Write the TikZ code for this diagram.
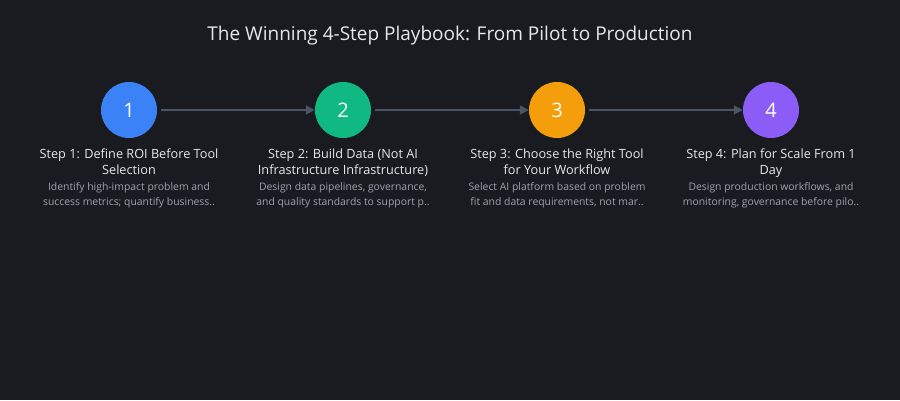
\documentclass[tikz,border=0pt]{standalone}
\usepackage{fontspec}
\setmainfont{Open Sans}
\usetikzlibrary{arrows.meta}
\definecolor{bg}{HTML}{1A1B20}
\definecolor{titlec}{HTML}{E5E7EB}
\definecolor{descc}{HTML}{9CA3AF}
\definecolor{linec}{HTML}{4B5563}
\definecolor{cblue}{HTML}{3B82F6}
\definecolor{cgreen}{HTML}{10B981}
\definecolor{camber}{HTML}{F59E0B}
\definecolor{cpurple}{HTML}{8B5CF6}
\tikzset{
  stepcircle/.style={circle, minimum size=56pt, inner sep=0pt, text=white, font=\fontsize{20}{24}\selectfont},
  steptitle/.style={align=center, text=titlec, font=\fontsize{12.7}{16}\selectfont, anchor=north, inner sep=0pt},
  stepdesc/.style={align=center, text=descc, font=\fontsize{10.4}{15}\selectfont, anchor=north, inner sep=0pt},
  conn/.style={draw=linec, line width=1.5pt, -{Triangle[length=9pt,width=9pt]}, shorten <=4pt}
}
\begin{document}
\begin{tikzpicture}[x=1pt,y=-1pt]
\fill[bg] (0,0) rectangle (900,400);
\useasboundingbox (0,0) rectangle (900,400);
\node[text=titlec, font=\fontsize{19}{22}\selectfont] (title) at (450,36) {The Winning 4-Step Playbook: From Pilot to Production};

\node[stepcircle, fill=cblue] (c1) at (129,110) {1};
\node[stepcircle, fill=cgreen] (c2) at (343,110) {2};
\node[stepcircle, fill=camber] (c3) at (557,110) {3};
\node[stepcircle, fill=cpurple] (c4) at (771,110) {4};

\draw[conn] (c1) -- (c2);
\draw[conn] (c2) -- (c3);
\draw[conn] (c3) -- (c4);

\node[steptitle] (t1) at (129,149) {Step 1: Define ROI Before Tool\\Selection};
\node[steptitle] (t2) at (343,149) {Step 2: Build Data (Not AI\\Infrastructure Infrastructure)};
\node[steptitle] (t3) at (557,149) {Step 3: Choose the Right Tool\\for Your Workflow};
\node[steptitle] (t4) at (771,149) {Step 4: Plan for Scale From 1\\Day};

\node[stepdesc] (d1) at (129,182) {Identify high-impact problem and\\success metrics; quantify business..};
\node[stepdesc] (d2) at (343,182) {Design data pipelines, governance,\\and quality standards to support p..};
\node[stepdesc] (d3) at (557,182) {Select AI platform based on problem\\fit and data requirements, not mar..};
\node[stepdesc] (d4) at (771,182) {Design production workflows, and\\monitoring, governance before pilo..};
\end{tikzpicture}
\end{document}
